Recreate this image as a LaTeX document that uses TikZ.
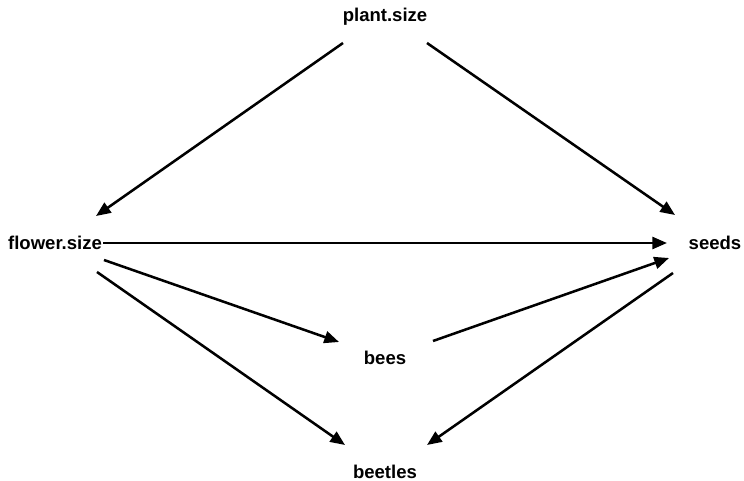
\documentclass[tikz,border=0pt]{standalone}
\usepackage{fontspec}
\setmainfont{Liberation Sans}
\usetikzlibrary{calc,arrows.meta}
\begin{document}
\begin{tikzpicture}[x=0.75pt,y=-0.75pt,
  var/.style={anchor=base,inner sep=0pt,font=\fontsize{13.9}{16}\selectfont\bfseries},
  edge/.style={line width=1.9pt,-{Triangle[length=11pt,width=9pt]}}]
\useasboundingbox[fill=white] (0,0) rectangle (744,481);
% variables (placed at their baselines)
\node[var] (p)  at (385,22)  {plant.size};
\node[var] (f)  at (55,250)  {flower.size};
\node[var] (s)  at (715,250) {seeds};
\node[var] (b)  at (385,365) {bees};
\node[var] (bt) at (385,479) {beetles};
% causal arrows
\draw[edge] ($(p.base)+(-42,21)$) -- ($(f.base)+(41,-34)$);
\draw[edge] ($(p.base)+(42,21)$)  -- ($(s.base)+(-40,-35)$);
\draw[edge] ($(f.base)+(48,-7)$)  -- ($(s.base)+(-48,-7)$);
\draw[edge] ($(f.base)+(49,10)$)  -- ($(b.base)+(-46,-23)$);
\draw[edge] ($(f.base)+(42,22)$)  -- ($(bt.base)+(-40,-34)$);
\draw[edge] ($(b.base)+(48,-24)$) -- ($(s.base)+(-46,8)$);
\draw[edge] ($(s.base)+(-42,23)$) -- ($(bt.base)+(42,-34)$);
\end{tikzpicture}
\end{document}
